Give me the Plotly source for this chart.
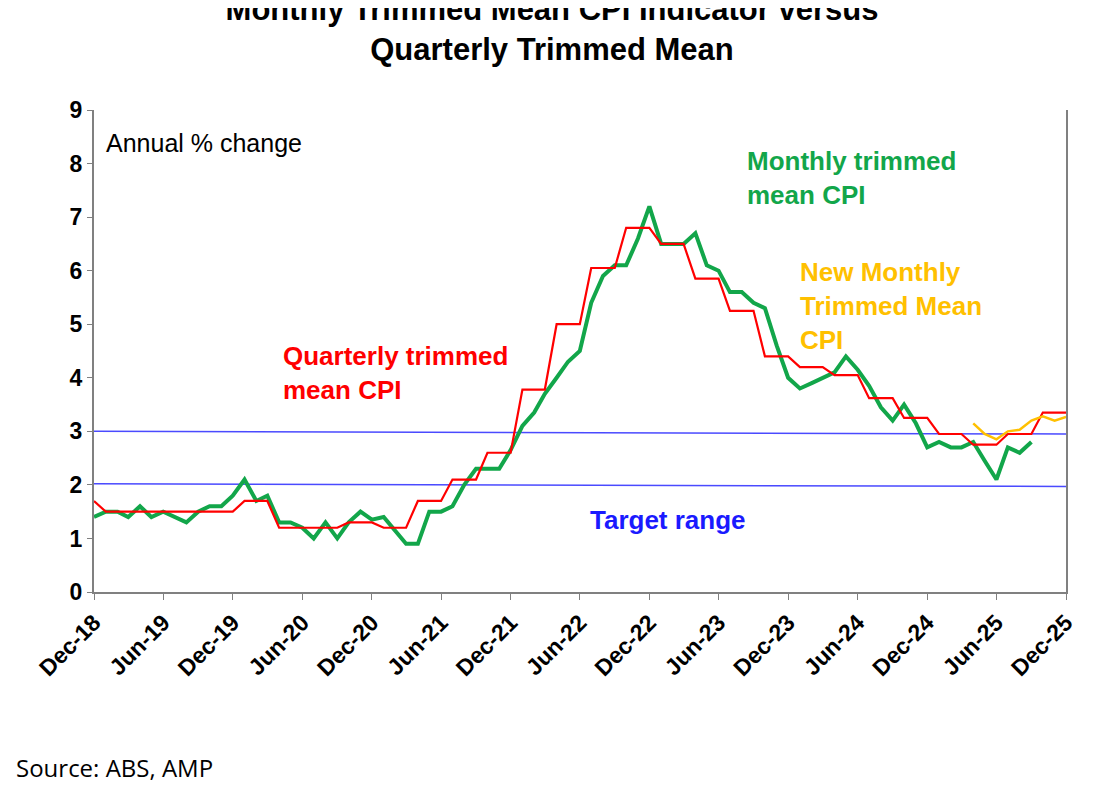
import pandas as pd
import plotly.graph_objects as go

months = pd.date_range("2018-12-01", "2025-12-01", freq="MS")

# Monthly trimmed mean CPI indicator (Dec-18 .. Sep-25)
monthly = [1.4, 1.5, 1.5, 1.4, 1.6, 1.4, 1.5, 1.4, 1.3, 1.5, 1.6, 1.6,
           1.8, 2.1, 1.7, 1.8, 1.3, 1.3, 1.2, 1.0, 1.3, 1.0, 1.3, 1.5,
           1.35, 1.4, 1.15, 0.9, 0.9, 1.5, 1.5, 1.6, 2.0, 2.3, 2.3, 2.3,
           2.65, 3.1, 3.35, 3.7, 4.0, 4.3, 4.5, 5.4, 5.9, 6.1, 6.1, 6.6,
           7.2, 6.5, 6.5, 6.5, 6.7, 6.1, 6.0, 5.6, 5.6, 5.4, 5.3, 4.6,
           4.0, 3.8, 3.9, 4.0, 4.1, 4.4, 4.15, 3.85, 3.45, 3.2, 3.5, 3.15,
           2.7, 2.8, 2.7, 2.7, 2.8, 2.45, 2.1, 2.7, 2.6, 2.8]

# Quarterly trimmed mean, shown at monthly frequency
quarterly = [1.7] + [1.5] * 12 + [1.7] * 3 + [1.2] * 6 + [1.3] * 3 + [1.2] * 3 \
    + [1.7] * 3 + [2.1] * 3 + [2.6] * 3 + [3.78] * 3 + [5.0] * 3 + [6.05] * 3 \
    + [6.8] * 3 + [6.5] * 3 + [5.85] * 3 + [5.25] * 3 + [4.4] * 3 + [4.2] * 3 \
    + [4.05] * 3 + [3.62] * 3 + [3.25] * 3 + [2.95] * 3 + [2.75] * 3 + [2.95] * 3 \
    + [3.35] * 3

# New monthly trimmed mean CPI (Apr-25 .. Dec-25)
new_monthly = [3.15, 2.95, 2.85, 3.0, 3.03, 3.2, 3.28, 3.2, 3.27]

target_low = [2.02, 1.97]
target_high = [3.0, 2.95]

fig = go.Figure()
fig.add_trace(go.Scatter(x=[months[0], months[-1]], y=target_high, mode="lines",
                         line=dict(color="#4a4aff", width=1.5)))
fig.add_trace(go.Scatter(x=[months[0], months[-1]], y=target_low, mode="lines",
                         line=dict(color="#4a4aff", width=1.5)))
fig.add_trace(go.Scatter(x=months[:len(monthly)], y=monthly, mode="lines",
                         line=dict(color="#12a64a", width=4)))
fig.add_trace(go.Scatter(x=months, y=quarterly, mode="lines",
                         line=dict(color="#ff0000", width=2.2)))
fig.add_trace(go.Scatter(x=months[-len(new_monthly):], y=new_monthly, mode="lines",
                         line=dict(color="#ffc000", width=2.5)))

bold = "Liberation Sans"
fig.update_layout(
    width=1088, height=777, showlegend=False,
    paper_bgcolor="white", plot_bgcolor="white",
    margin=dict(l=86, r=30, t=102, b=193),
    font=dict(family=bold, color="black"),
    title=dict(text="<b>Monthly Trimmed Mean CPI Indicator versus<br>Quarterly Trimmed Mean</b>",
               x=0.5, xanchor="center", y=0.985, yanchor="top",
               font=dict(size=31, family=bold)),
)
fig.update_xaxes(
    type="date", range=[months[0], months[-1]],
    tick0="2018-12-01", dtick="M6", tickformat="<b>%b-%y</b>",
    tickangle=-45, ticks="outside", ticklen=6, tickcolor="#808080",
    showline=True, linecolor="#808080", linewidth=2, showgrid=False,
    tickfont=dict(size=23, family=bold),
)
fig.update_yaxes(
    range=[0, 9], dtick=1, ticks="outside", ticklen=5, tickcolor="#808080",
    tickprefix="<b>", ticksuffix="</b>",
    showline=True, linecolor="#808080", linewidth=2, mirror=True, showgrid=False,
    zeroline=False, tickfont=dict(size=23, family=bold),
)

def note(text, x, y, color, size=26, font=bold):
    fig.add_annotation(text=text, x=x, y=y, xref="paper", yref="paper", showarrow=False,
                       xanchor="left", yanchor="top", align="left",
                       font=dict(size=size, color=color, family=font))

note("Annual % change", 0.010, 0.965, "black", size=25)
note("<b>Monthly trimmed<br>mean CPI</b>", 0.670, 0.93, "#12a64a")
note("<b>New Monthly<br>Trimmed Mean<br>CPI</b>", 0.724, 0.70, "#ffc000")
note("<b>Quarterly trimmed<br>mean CPI</b>", 0.192, 0.525, "#ff0000")
note("<b>Target range</b>", 0.508, 0.185, "#1a1aff")
note("Source: ABS, AMP", -0.082, -0.325, "black", size=24, font="Open Sans")

fig.write_html("out.html")
